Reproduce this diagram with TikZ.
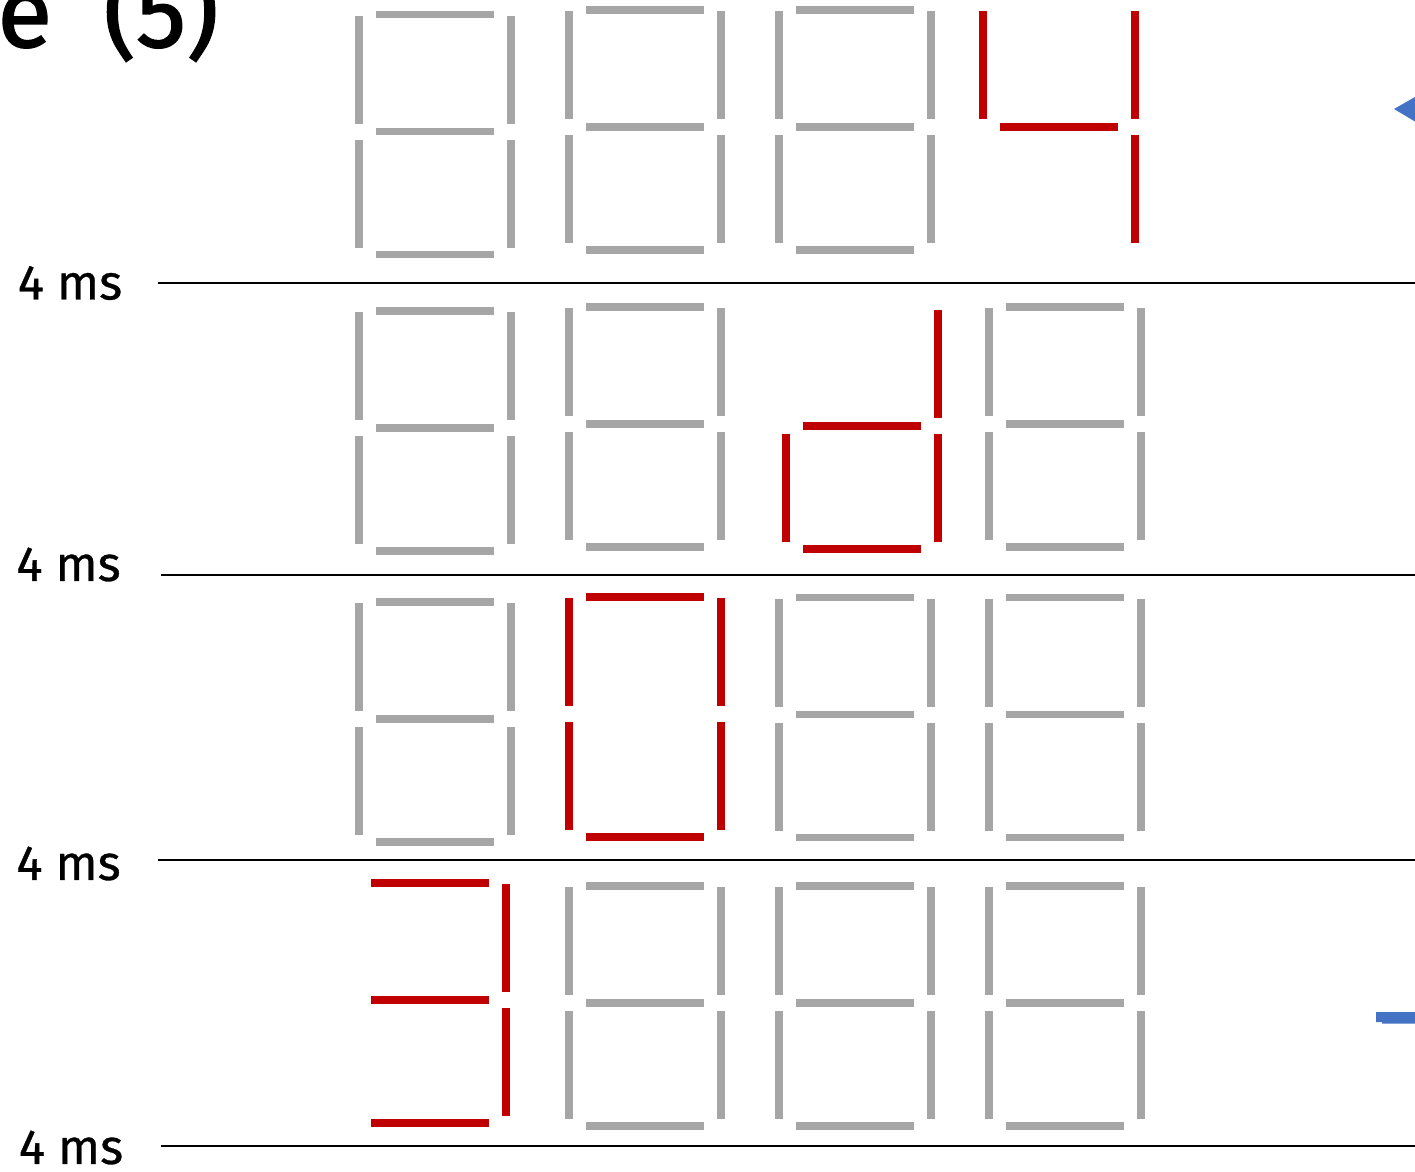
\documentclass[tikz,border=0pt]{standalone}
\usepackage{fontspec}
\setmainfont{Fira Sans}
\newfontfamily\titlefont[FakeBold=1.6]{Fira Sans}
\newfontfamily\slotfont[FakeBold=0.6]{Fira Sans}

\definecolor{segoff}{HTML}{A6A6A6}
\definecolor{segon}{HTML}{C00000}
\definecolor{accent}{HTML}{4472C4}

% one seven-segment digit: left x, top y, style, lit segments
\newcommand{\segdigit}[4]{%
	\begin{scope}[shift={(#1,#2)}]
		\coordinate (a1) at (17,0);   \coordinate (a2) at (135,0);
		\coordinate (b1) at (152,1);  \coordinate (b2) at (152,109);
		\coordinate (c1) at (152,125);\coordinate (c2) at (152,233);
		\coordinate (d1) at (17,240); \coordinate (d2) at (135,240);
		\coordinate (e1) at (0,125);  \coordinate (e2) at (0,233);
		\coordinate (f1) at (0,1);    \coordinate (f2) at (0,109);
		\coordinate (g1) at (17,117); \coordinate (g2) at (135,117);
		\foreach \s in {#4}
			\draw[#3] (\s1) -- (\s2);
	\end{scope}}

\begin{document}
\begin{tikzpicture}[x=0.02cm, y=-0.02cm,
	seg/.style={line width=4.5pt},
	off/.style={seg, color=segoff},
	on/.style={seg, color=segon},
	rule/.style={thin, line width=0.7pt},
	lbl/.style={font=\slotfont\fontsize{28}{28}\selectfont, inner sep=0pt}]
	\useasboundingbox (0,0) rectangle (1415,1171);
	% title, cut by the page edge
	\node[anchor=base east, inner sep=0pt, font=\titlefont\fontsize{57}{57}\selectfont] (title) at (219,47) {e\hspace{0.5cm} (5)};
	% time slots
	\node[lbl] (ms1) at (70,283) {4 ms};
	\node[lbl] (ms2) at (68.5,564.5) {4 ms};
	\node[lbl] (ms3) at (68.5,863.5) {4 ms};
	\node[lbl] (ms4) at (71,1147.5) {4 ms};
	\draw[rule] (158,283) -- (1415,283);
	\draw[rule] (161,575) -- (1415,575);
	\draw[rule] (158,860) -- (1415,860);
	\draw[rule] (161,1146) -- (1415,1146);
	% row 1: 4 on the last digit
	\segdigit{359}{14.5}{off}{a,b,c,d,e,f,g}
	\segdigit{569}{10}{off}{a,b,c,d,e,f,g}
	\segdigit{779}{10}{off}{a,b,c,d,e,f,g}
	\segdigit{983}{10}{on}{b,c,f,g}
	% row 2: d on the third digit
	\segdigit{359}{311}{off}{a,b,c,d,e,f,g}
	\segdigit{569}{307}{off}{a,b,c,d,e,f,g}
	\segdigit{786}{309}{on}{b,c,d,e,g}
	\segdigit{989}{307}{off}{a,b,c,d,e,f,g}
	% row 3: 0 on the second digit
	\segdigit{359}{602}{off}{a,b,c,d,e,f,g}
	\segdigit{569}{597}{on}{a,b,c,d,e,f}
	\segdigit{779}{597.5}{off}{a,b,c,d,e,f,g}
	\segdigit{989}{597.5}{off}{a,b,c,d,e,f,g}
	% row 4: 3 on the first digit
	\segdigit{354}{883}{on}{a,b,c,d,g}
	\segdigit{569}{886}{off}{a,b,c,d,e,f,g}
	\segdigit{779}{886}{off}{a,b,c,d,e,f,g}
	\segdigit{989}{886}{off}{a,b,c,d,e,f,g}
	% blue marks at the right edge
	\fill[accent] (1394,109) -- (1415,97) -- (1415,121.5) -- cycle;
	\fill[accent] (1376,1012) -- (1415,1012) -- (1415,1023.5) -- (1382,1023.5)
		-- (1382,1022) -- (1376,1022) -- cycle;
\end{tikzpicture}
\end{document}
